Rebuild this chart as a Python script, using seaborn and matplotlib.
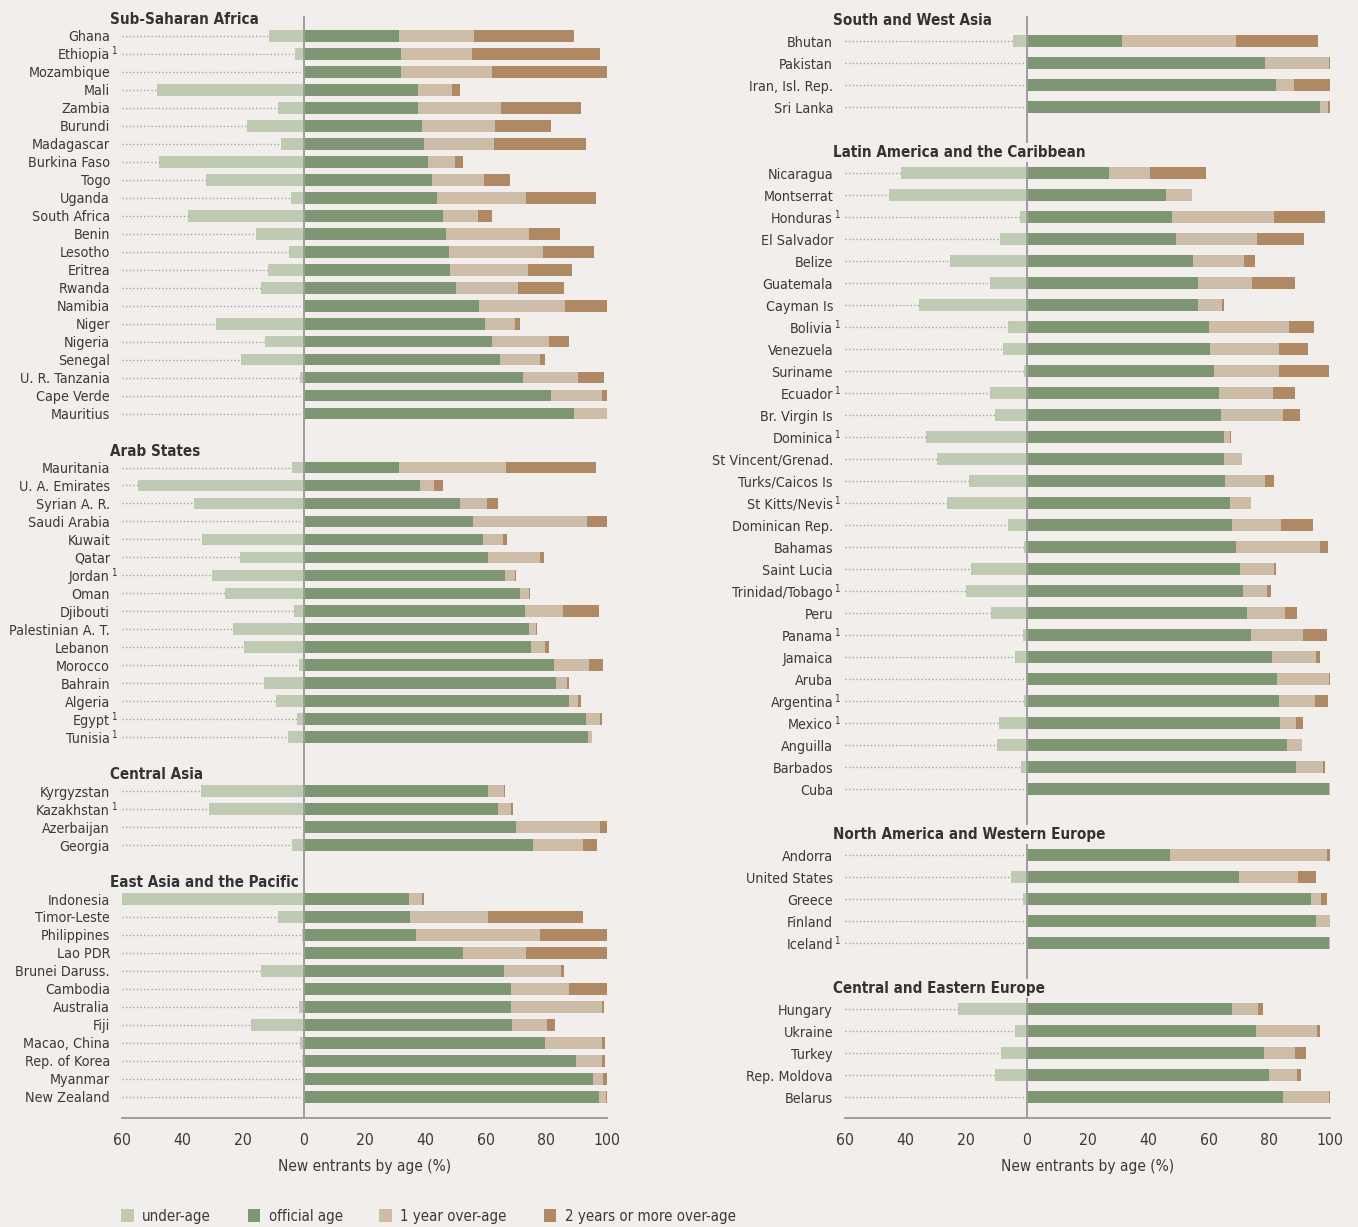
import numpy as np
import pandas as pd
import matplotlib.pyplot as plt
import seaborn as sns
from matplotlib import font_manager
from matplotlib.patches import Patch
from matplotlib.textpath import TextToPath

# ---- data: % of new entrants by age (under-age, official age, 1 year over-age, 2+ years over-age)
ssa_countries = ['Ghana', 'Ethiopia', 'Mozambique', 'Mali', 'Zambia', 'Burundi', 'Madagascar',
                 'Burkina Faso', 'Togo', 'Uganda', 'South Africa', 'Benin', 'Lesotho', 'Eritrea',
                 'Rwanda', 'Namibia', 'Niger', 'Nigeria', 'Senegal', 'U. R. Tanzania',
                 'Cape Verde', 'Mauritius']
ssa_under = [11.5, 2.9, 0, 48.6, 8.7, 18.6, 7.4, 47.7, 32.2, 4.2, 38.2, 15.8, 4.8, 11.7,
             14.3, 0, 28.9, 12.8, 20.7, 1.2, 0, 0]
ssa_official = [31.4, 32.1, 32.1, 37.7, 37.7, 39.0, 39.6, 40.9, 42.4, 43.9, 45.9, 46.9, 48.0, 48.2,
                50.2, 57.8, 59.8, 62.1, 64.8, 72.4, 81.5, 89.2]
ssa_one = [24.8, 23.4, 30.0, 11.2, 27.4, 24.1, 23.1, 9.0, 17.1, 29.4, 11.6, 27.4, 30.9, 25.7,
           20.5, 28.4, 9.8, 18.7, 13.2, 18.1, 16.8, 10.8]
ssa_two = [33.0, 42.1, 37.9, 2.6, 26.3, 18.4, 30.4, 2.6, 8.6, 23.0, 4.6, 10.2, 16.8, 14.6,
           15.1, 13.8, 1.7, 6.7, 1.5, 8.6, 1.7, 0]

arab_countries = ['Mauritania', 'U. A. Emirates', 'Syrian A. R.', 'Saudi Arabia', 'Kuwait', 'Qatar',
                  'Jordan', 'Oman', 'Djibouti', 'Palestinian A. T.', 'Lebanon', 'Morocco',
                  'Bahrain', 'Algeria', 'Egypt', 'Tunisia']
arab_under = [3.9, 54.6, 36.1, 0, 33.5, 21.0, 30.2, 25.9, 3.1, 23.3, 19.7, 1.6, 13.0, 9.1, 2.2, 5.2]
arab_official = [31.4, 38.3, 51.5, 55.8, 59.2, 60.8, 66.4, 71.3, 73.0, 74.3, 75.0, 82.5, 83.2, 87.5,
                 93.1, 93.7]
arab_one = [35.4, 4.7, 9.0, 37.7, 6.5, 17.2, 3.2, 3.0, 12.5, 2.2, 4.5, 11.6, 3.6, 3.0, 4.6, 1.3]
arab_two = [29.5, 2.9, 3.5, 6.5, 1.3, 1.3, 0.4, 0.3, 11.9, 0.4, 1.3, 4.6, 0.7, 0.9, 0.6, 0]

casia_countries = ['Kyrgyzstan', 'Kazakhstan', 'Azerbaijan', 'Georgia']
casia_under = [33.9, 31.2, 0, 3.9]
casia_official = [60.8, 64.0, 70.0, 75.6]
casia_one = [5.3, 4.3, 27.7, 16.4]
casia_two = [0.3, 0.7, 2.3, 4.7]

eap_countries = ['Indonesia', 'Timor-Leste', 'Philippines', 'Lao PDR', 'Brunei Daruss.', 'Cambodia',
                 'Australia', 'Fiji', 'Macao, China', 'Rep. of Korea', 'Myanmar', 'New Zealand']
eap_under = [60.9, 8.5, 0.5, 0, 14.3, 0, 1.6, 17.3, 1.2, 0.5, 0, 0]
eap_official = [34.7, 35.1, 37.0, 52.5, 66.1, 68.3, 68.3, 68.7, 79.5, 89.8, 95.4, 97.4]
eap_one = [4.3, 25.7, 41.0, 20.8, 18.8, 19.2, 30.0, 11.5, 18.8, 8.5, 3.3, 2.3]
eap_two = [0.6, 31.2, 22.0, 26.7, 0.9, 12.5, 0.8, 2.7, 1.0, 1.2, 1.3, 0.3]

swa_countries = ['Bhutan', 'Pakistan', 'Iran, Isl. Rep.', 'Sri Lanka']
swa_under = [4.7, 0, 0, 0]
swa_official = [31.3, 78.5, 82.2, 96.7]
swa_one = [37.6, 21.3, 5.9, 2.7]
swa_two = [27.2, 0.2, 11.9, 0.6]

lac_countries = ['Nicaragua', 'Montserrat', 'Honduras', 'El Salvador', 'Belize', 'Guatemala',
                 'Cayman Is', 'Bolivia', 'Venezuela', 'Suriname', 'Ecuador', 'Br. Virgin Is',
                 'Dominica', 'St Vincent/Grenad.', 'Turks/Caicos Is', 'St Kitts/Nevis',
                 'Dominican Rep.', 'Bahamas', 'Saint Lucia', 'Trinidad/Tobago', 'Peru', 'Panama',
                 'Jamaica', 'Aruba', 'Argentina', 'Mexico', 'Anguilla', 'Barbados', 'Cuba']
lac_under = [41.5, 45.5, 2.4, 9.0, 25.2, 12.3, 35.5, 6.1, 7.8, 0.8, 12.1, 10.4, 33.4, 29.5, 19.0,
             26.2, 6.1, 1.1, 18.3, 20.2, 11.7, 1.4, 4.0, 0, 1.1, 9.3, 9.7, 2.1, 0]
lac_official = [27.0, 45.8, 47.9, 49.1, 54.8, 56.4, 56.4, 60.1, 60.3, 61.7, 63.4, 64.1, 65.0, 65.0,
                65.3, 67.0, 67.7, 68.9, 70.3, 71.3, 72.5, 73.9, 80.9, 82.5, 83.2, 83.5, 85.9,
                88.8, 99.7]
lac_one = [13.5, 8.7, 33.7, 26.8, 16.8, 17.8, 8.0, 26.4, 22.9, 21.5, 17.7, 20.4, 2.0, 6.0, 13.2,
           6.9, 16.2, 27.8, 11.3, 7.9, 12.7, 17.2, 14.5, 17.2, 11.9, 5.3, 4.9, 9.0, 0.3]
lac_two = [18.6, 0, 16.7, 15.5, 3.7, 14.3, 0.6, 8.2, 9.6, 16.5, 7.4, 5.7, 0.3, 0, 3.1, 0, 10.6,
           2.7, 0.6, 1.4, 4.0, 7.9, 1.3, 0.6, 4.3, 2.3, 0, 0.5, 0]

nawe_countries = ['Andorra', 'United States', 'Greece', 'Finland', 'Iceland']
nawe_under = [0, 5.1, 1.4, 0, 0]
nawe_official = [47.2, 69.9, 93.8, 95.4, 99.7]
nawe_one = [51.8, 19.6, 3.3, 4.6, 0.3]
nawe_two = [1.0, 5.9, 1.9, 0, 0]

cee_countries = ['Hungary', 'Ukraine', 'Turkey', 'Rep. Moldova', 'Belarus']
cee_under = [22.6, 4.0, 8.7, 10.4, 0]
cee_official = [67.7, 75.6, 78.2, 79.9, 84.5]
cee_one = [8.6, 20.1, 10.3, 9.3, 15.2]
cee_two = [1.6, 1.0, 3.6, 1.2, 0.7]

footnoted = ['Ethiopia', 'Jordan', 'Egypt', 'Tunisia', 'Kazakhstan', 'Honduras', 'Bolivia',
             'Ecuador', 'Dominica', 'St Kitts/Nevis', 'Trinidad/Tobago', 'Panama', 'Argentina',
             'Mexico', 'Iceland']

left_regions = [
    ('Sub-Saharan Africa', ssa_countries, ssa_under, ssa_official, ssa_one, ssa_two),
    ('Arab States', arab_countries, arab_under, arab_official, arab_one, arab_two),
    ('Central Asia', casia_countries, casia_under, casia_official, casia_one, casia_two),
    ('East Asia and the Pacific', eap_countries, eap_under, eap_official, eap_one, eap_two),
]
right_regions = [
    ('South and West Asia', swa_countries, swa_under, swa_official, swa_one, swa_two),
    ('Latin America and the Caribbean', lac_countries, lac_under, lac_official, lac_one, lac_two),
    ('North America and Western Europe', nawe_countries, nawe_under, nawe_official, nawe_one, nawe_two),
    ('Central and Eastern Europe', cee_countries, cee_under, cee_official, cee_one, cee_two),
]

BG = '#f2eeeb'
C_UNDER = '#bfcab3'
C_OFF = '#7f9674'
C_ONE = '#cdbda8'
C_TWO = '#ae8963'
TXT = '#3a3a3a'
GREY = '#9d9d9d'

sns.set_style('white')

# pick a condensed sans face if one is installed, otherwise plain Roboto
fonts = font_manager.fontManager.ttflist
narrow = [f for f in fonts if f.stretch in ('condensed', 'semi-condensed', 'extra-condensed')
          and 'Mono' not in f.name and 'CJK' not in f.name and 'Serif' not in f.name]
narrow += [f for f in fonts if ('Narrow' in f.name or 'Condensed' in f.name) and f not in narrow]
order = {'condensed': 0, 'semi-condensed': 1, 'extra-condensed': 2}
if narrow:
    pref = sorted(narrow, key=lambda f: (order.get(f.stretch, 3), f.weight != 'normal' and f.weight != 400))
    base_font, base_stretch = pref[0].name, pref[0].stretch
else:
    base_font, base_stretch = 'Roboto', 'normal'
plt.rcParams['font.family'] = [base_font, 'DejaVu Sans']
plt.rcParams['font.stretch'] = base_stretch
plt.rcParams['text.color'] = TXT

# size labels so that "Mozambique" is about 80 px wide as in the reference
probe = font_manager.FontProperties(family=[base_font, 'DejaVu Sans'], stretch=base_stretch, size=12)
w_pt = TextToPath().get_text_width_height_descent('Mozambique', probe, ismath=False)[0]
FS = float(np.clip(12 * 59 / w_pt, 9.5, 12.5))
FS_HEAD = FS * 1.06


def build(regions):
    rows, heads = [], []
    slot = 0
    for i, (title, names, u, o, a, b) in enumerate(regions):
        if i > 0:
            slot += 1
        heads.append((slot, title))
        slot += 1
        for n, uu, oo, aa, bb in zip(names, u, o, a, b):
            rows.append(dict(slot=slot, country=n, under=uu, official=oo, one=aa, two=bb))
            slot += 1
    df = pd.DataFrame(rows)
    df['under_neg'] = -df['under']
    df['end_off'] = df['official']
    df['end_one'] = df['official'] + df['one']
    df['end_two'] = df['end_one'] + df['two']
    return df, heads


def draw_panel(ax, df, heads, bar_w, ylims, zero_top):
    ax.set_facecolor(BG)
    # stacked bars drawn back to front as cumulative totals
    for col, c in [('end_two', C_TWO), ('end_one', C_ONE), ('end_off', C_OFF), ('under_neg', C_UNDER)]:
        sns.barplot(data=df, x=col, y='slot', orient='h', native_scale=True, color=c,
                    width=bar_w, saturation=1, errorbar=None, linewidth=0, ax=ax)
    # dotted leaders
    ends = np.where(df['under'] > 0, -df['under'], -0.8)
    ax.hlines(df['slot'], -60, ends, colors='#a9a49f', linestyles=(0, (1, 1.6)), lw=1.0, zorder=1)
    ax.vlines(0, zero_top, ylims[0], colors=GREY, lw=1.4, zorder=2.5)
    for s, name in zip(df['slot'], df['country']):
        ax.annotate(name, xy=(-60, s), xytext=(-8.6, 0), textcoords='offset points',
                    ha='right', va='center_baseline', fontsize=FS, annotation_clip=False)
        if name in footnoted:
            ax.annotate('1', xy=(-60, s), xytext=(-8.0, 2.5), textcoords='offset points',
                        ha='left', va='center_baseline', fontsize=FS * 0.68, annotation_clip=False)
    for s, title in heads:
        ax.annotate(title, xy=(-60, s), xytext=(-8.6, 0), textcoords='offset points',
                    ha='left', va='center_baseline', fontsize=FS_HEAD, fontweight='semibold',
                    color='#333333', annotation_clip=False, zorder=4,
                    bbox=dict(facecolor=BG, edgecolor='none', pad=1.5))
    ax.set_xlim(-60, 100)
    ax.set_ylim(*ylims)
    ax.set_yticks([])
    ax.set_ylabel('')
    ticks = np.arange(-60, 101, 20)
    ax.set_xticks(ticks)
    ax.set_xticklabels([str(abs(t)) for t in ticks])
    ax.tick_params(axis='x', direction='out', length=7, width=1.2, color=GREY,
                   labelsize=FS * 1.1, labelcolor=TXT, pad=3.5)
    ax.set_xlabel('New entrants by age (%)', fontsize=FS * 1.08, color=TXT, labelpad=8)
    for sp in ['top', 'left', 'right']:
        ax.spines[sp].set_visible(False)
    ax.spines['bottom'].set_color(GREY)
    ax.spines['bottom'].set_linewidth(1.4)


W, H = 1358, 1227
fig = plt.figure(figsize=(W / 100, H / 100), dpi=100, facecolor=BG)
y_bot = 1 - 1118 / H
y_h = (1118 - 8) / H
ax_l = fig.add_axes([122 / W, y_bot, (607 - 122) / W, y_h])
ax_r = fig.add_axes([845 / W, y_bot, (1330 - 845) / W, y_h])

df_l, heads_l = build(left_regions)
df_r, heads_r = build(right_regions)

draw_panel(ax_l, df_l, heads_l, 0.65, ((1118 - 18) / 17.98, (8 - 18) / 17.98), (16 - 18) / 17.98)
draw_panel(ax_r, df_r, heads_r, 0.53, ((1118 - 19) / 22.0, (8 - 19) / 22.0), (16 - 19) / 22.0)

handles = [Patch(facecolor=c, edgecolor='none') for c in [C_UNDER, C_OFF, C_ONE, C_TWO]]
labels = ['under-age', 'official age', '1 year over-age', '2 years or more over-age']
fig.legend(handles, labels, loc='center left', bbox_to_anchor=(121 / W, 1 - 1216 / H), ncol=4,
           frameon=False, fontsize=FS * 1.05, handlelength=0.85, handleheight=1.0, handletextpad=0.55,
           columnspacing=2.45, borderpad=0, borderaxespad=0)

fig.savefig('out.png', dpi=100, facecolor=BG)
